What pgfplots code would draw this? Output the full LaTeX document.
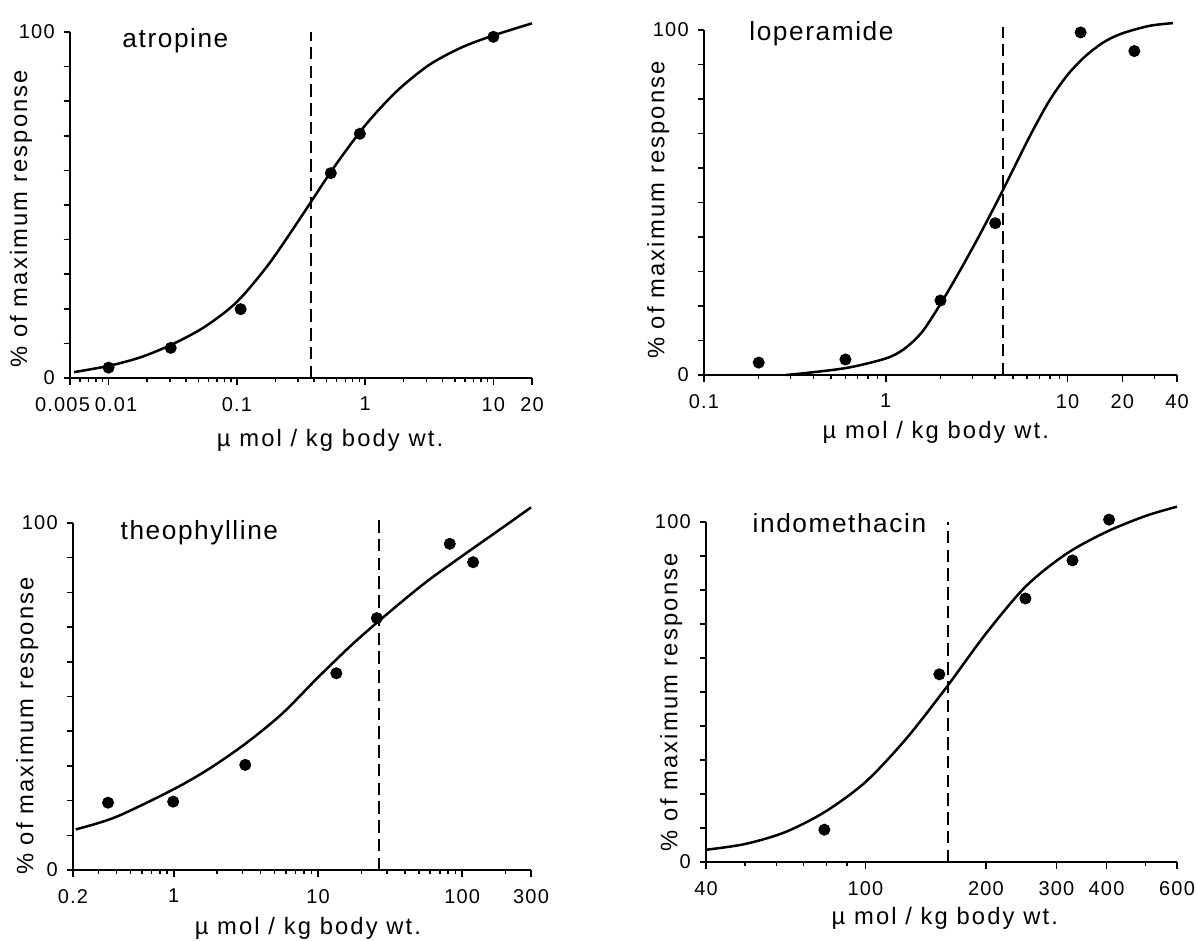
\documentclass[border=0pt]{standalone}
\usepackage{fontspec}
\setmainfont{Liberation Sans}[LetterSpace=6]
\newfontfamily\lblfont{Liberation Sans}[LetterSpace=9]
\usepackage{pgfplots}
\pgfplotsset{compat=1.18}

\pgfplotsset{
  every axis/.append style={
    xmode=log, scale only axis, clip=false,
    axis x line=bottom, axis y line=left,
    axis line style={-, line width=0.9pt},
    ymin=0, ymax=100,
    ytick={0,10,...,100}, yticklabels={0,,,,,,,,,,100},
    tick align=outside, major tick length=2.6pt, minor tick length=1.6pt,
    tick style={black, line width=0.6pt},
    ticklabel style={font=\fontsize{8}{9}\selectfont},
    xticklabel style={yshift=-1.5pt},
    xlabel={µ mol / kg body wt.},
    ylabel={\% of maximum response},
    label style={font=\lblfont\fontsize{9.5}{11}\selectfont},
  },
}
\tikzset{
  mycurve/.style={black, line width=1pt, smooth},
  mypts/.style={black, mark=*, mark size=2.2pt},
  mydash/.style={black, line width=0.6pt, dash pattern=on 5pt off 2.5pt},
  ttl/.style={anchor=west, inner sep=0pt, font=\fontsize{10.5}{12}\selectfont},
}

\begin{document}
\begin{tikzpicture}
\path[use as bounding box] (0,0) rectangle (478.8pt,376pt);

% atropine
\begin{axis}[at={(28pt,224.8pt)}, width=184.8pt, height=138.4pt,
  xmin=0.005, xmax=20,
  xtick={0.005,0.01,0.1,1,10,20},
  xticklabels={\makebox[0pt]{0.005\hspace{6pt}},\makebox[0pt]{\hspace{6pt}0.01},0.1,1,10,20},
  minor xtick={0.006,0.007,0.008,0.009,0.02,0.03,0.04,0.05,0.06,0.07,0.08,0.09,0.2,0.3,0.4,0.5,0.6,0.7,0.8,0.9,2,3,4,5,6,7,8,9},
  xlabel style={at={(axis description cs:0.563,0)}, anchor=center, yshift=-24.8pt},
  ylabel style={at={(axis description cs:-0.106,0.46)}, anchor=center},
]
\addplot[mydash, no marks] coordinates {(0.38,0) (0.38,100)};
\addplot[mycurve, no marks] coordinates {
  (0.00537,1.7) (0.01,3.5) (0.0178,6.0) (0.0316,9.8) (0.0562,14.8) (0.1,22)
  (0.178,33) (0.316,46.5) (0.562,60.5) (1,73) (1.778,83) (3.162,90.5)
  (5.623,95.5) (10,99) (20,102.5)};
\addplot[mypts, only marks] coordinates {
  (0.01,3.0) (0.0305,8.7) (0.107,19.9) (0.54,59.2) (0.91,70.6) (10,98.6)};
\node[ttl] at (axis description cs:0.1125,0.974) {atropine};
\end{axis}

% loperamide
\begin{axis}[at={(281.6pt,226pt)}, width=189.2pt, height=138pt,
  xmin=0.1, xmax=40,
  xtick={0.1,1,10,20,40},
  xticklabels={0.1,1,10,20,40},
  minor xtick={0.2,0.3,0.4,0.5,0.6,0.7,0.8,0.9,2,3,4,5,6,7,8,9,30},
  xlabel style={at={(axis description cs:0.49,0)}, anchor=center, yshift=-22.8pt},
  ylabel style={at={(axis description cs:-0.097,0.478)}, anchor=center},
]
\addplot[mydash, no marks] coordinates {(4.4,0) (4.4,101)};
\addplot[mycurve, no marks] coordinates {
  (0.282,0) (0.398,0.8) (0.631,2.2) (1,4.8) (1.259,7.5) (1.585,12.5)
  (1.995,20.5) (2.512,29.5) (3.162,39) (3.981,49) (5.012,59.5) (6.31,70)
  (7.943,79.5) (10,87) (12.59,92.5) (15.85,96.5) (19.95,99) (28.18,101.2) (38.02,102)};
\addplot[mypts, only marks] coordinates {
  (0.2,3.6) (0.6,4.5) (2,21.6) (4.0,44) (11.8,99.3) (23.3,93.9)};
\node[ttl] at (axis description cs:0.095,0.99) {loperamide};
\end{axis}

% theophylline
\begin{axis}[at={(29.2pt,28pt)}, width=183.2pt, height=138.8pt,
  xmin=0.2, xmax=300,
  xtick={0.2,1,10,100,300},
  xticklabels={0.2,1,10,100,300},
  minor xtick={0.3,0.4,0.5,0.6,0.7,0.8,0.9,2,3,4,5,6,7,8,9,20,30,40,50,60,70,80,90,200},
  xlabel style={at={(axis description cs:0.513,0)}, anchor=center, yshift=-23.2pt},
  ylabel style={at={(axis description cs:-0.1,0.415)}, anchor=center},
]
\addplot[mydash, no marks] coordinates {(26.4,0) (26.4,101.4)};
\addplot[mycurve, no marks] coordinates {
  (0.209,11.7) (0.398,15.3) (1,23.3) (1.778,29.3) (3.162,36.5) (5.623,45)
  (10,55.5) (17.78,65.5) (31.62,74.5) (56.23,83) (100,90.5) (177.8,97.8) (300,104.5)};
\addplot[mypts, only marks] coordinates {
  (0.35,19.4) (0.99,19.7) (3.13,30.3) (13.4,56.7) (25.6,72.6) (82,94) (119,88.7)};
\node[ttl] at (axis description cs:0.103,0.971) {theophylline};
\end{axis}

% indomethacin
\begin{axis}[at={(282.4pt,31.2pt)}, width=188.4pt, height=136pt,
  xmin=40, xmax=600,
  xtick={40,100,200,300,400,600},
  xticklabels={40,100,200,300,400,600},
  minor xtick={50,60,70,80,90,500},
  xlabel style={at={(axis description cs:0.507,0)}, anchor=center, yshift=-22.4pt},
  ylabel style={at={(axis description cs:-0.074,0.47)}, anchor=center},
]
\addplot[mydash, no marks] coordinates {(161,0) (161,100)};
\addplot[mycurve, no marks] coordinates {
  (40,3.6) (50.1,5.3) (63.1,8.8) (79.4,14.8) (100,23.5) (125.9,36) (158.5,51)
  (199.5,67) (251.2,81) (316.2,90.5) (398.1,97) (501.2,101.8) (600,104.5)};
\addplot[mypts, only marks] coordinates {
  (79,9.5) (153,55.2) (251,77.5) (329,88.7) (406,100.7)};
\node[ttl] at (axis description cs:0.098,0.997) {indomethacin};
\end{axis}
\end{tikzpicture}
\end{document}
